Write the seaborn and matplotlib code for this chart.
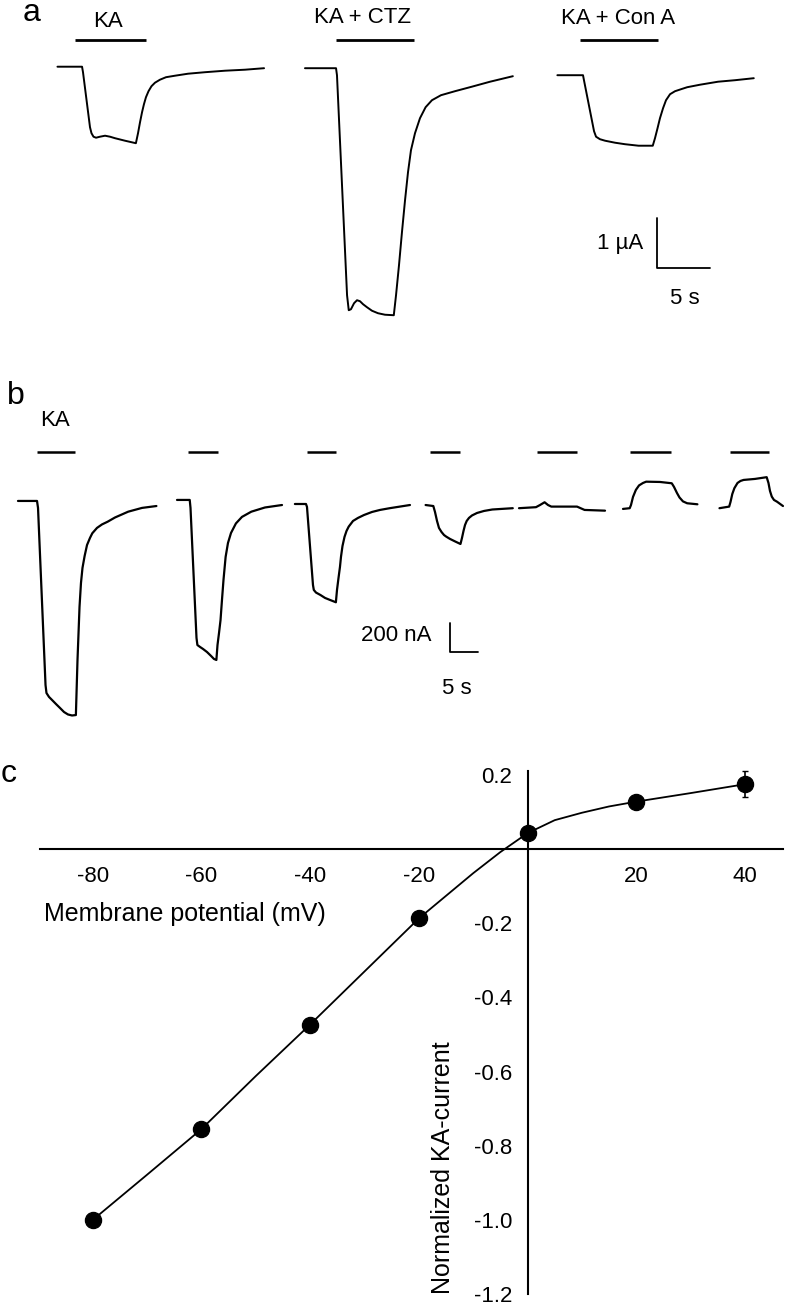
import matplotlib
matplotlib.use("Agg")
import matplotlib.pyplot as plt
import seaborn as sns
import pandas as pd

# ---- panel a: currents at -80 mV (time in s along the panel, current in uA) ----
a_names = ["KA", "KA + CTZ", "KA + Con A"]
a_ka_t = [5.42, 7.74, 7.83, 8.49, 8.63, 8.82, 9.06, 9.43, 9.91, 10.38, 10.85, 11.79,
          12.82, 13.02, 13.21, 13.40, 13.58, 13.77, 14.01, 14.29, 14.62, 15.09, 15.66,
          16.51, 17.74, 19.34, 21.23, 23.11, 24.91]
a_ka_i = [0, 0, -0.11, -1.21, -1.33, -1.40, -1.42, -1.40, -1.38, -1.40, -1.43, -1.48,
          -1.53, -1.33, -1.11, -0.91, -0.75, -0.61, -0.49, -0.39, -0.32, -0.26, -0.21,
          -0.18, -0.14, -0.11, -0.08, -0.06, -0.03]
a_ctz_t = [28.77, 31.70, 31.79, 32.74, 32.90, 33.11, 33.40, 33.68, 33.96, 34.25, 34.62,
           35.09, 35.66, 36.32, 37.15, 37.36, 37.64, 37.92, 38.21, 38.49, 38.77, 39.15,
           39.62, 40.15, 40.75, 41.60, 42.92, 44.51, 46.23, 48.38]
a_ctz_i = [-0.03, -0.03, -0.17, -4.57, -4.87, -4.85, -4.73, -4.67, -4.69, -4.75, -4.81,
           -4.88, -4.93, -4.96, -4.97, -4.57, -3.97, -3.31, -2.67, -2.11, -1.67, -1.33,
           -1.03, -0.81, -0.67, -0.57, -0.49, -0.40, -0.30, -0.19]
a_cona_t = [52.58, 55.00, 55.09, 56.04, 56.23, 56.60, 57.08, 58.02, 58.96, 60.24, 61.58,
            61.79, 62.03, 62.26, 62.55, 62.83, 63.21, 63.68, 64.25, 64.83, 66.04, 67.74,
            69.34, 71.11]
a_cona_i = [-0.17, -0.17, -0.27, -1.29, -1.40, -1.45, -1.48, -1.52, -1.55, -1.58, -1.58,
            -1.43, -1.23, -1.03, -0.83, -0.67, -0.55, -0.49, -0.45, -0.41, -0.36, -0.30,
            -0.27, -0.23]
a_bar_on = [7.11, 31.70, 54.67]
a_bar_off = [13.79, 39.06, 62.08]

# ---- panel b: KA currents at -80 ... +40 mV (time in s, current in nA) ----
b_t = [
    [3.21, 6.61, 6.79, 8.13, 8.30, 8.75, 9.29, 10.0, 10.71, 11.43, 12.14, 12.86, 13.55,
     13.84, 14.20, 14.46, 14.73, 15.11, 15.54, 16.07, 16.48, 17.32, 18.21, 19.23, 20.54,
     22.89, 25.36, 27.93],
    [31.61, 33.88, 34.02, 35.09, 35.25, 35.71, 36.25, 36.96, 37.68, 38.21, 38.64,
     38.84, 39.11, 39.38, 39.64, 39.91, 40.29, 40.71, 41.25, 42.13, 43.21, 44.88, 47.32,
     50.36],
    [52.66, 54.64, 54.82, 55.89, 56.04, 56.43, 57.23, 58.04, 58.93, 59.98,
     60.18, 60.45, 60.71, 60.89, 61.16, 61.52, 61.88, 62.27, 63.04, 63.93, 65.0, 66.43,
     67.86, 69.59, 73.21],
    [76.0, 77.38, 77.68, 78.04, 78.39, 78.84, 79.29, 79.68, 80.36, 81.25, 82.23,
     82.5, 82.77, 83.04, 83.34, 83.75, 84.29, 85.18, 86.43, 87.91, 91.57],
    [92.68, 95.71, 96.43, 97.25, 97.86, 98.45, 103.04, 103.57, 104.39, 108.04],
    [111.25, 112.45, 112.68, 113.04, 113.55, 114.11, 114.82, 115.39, 117.86, 119.96,
     120.36, 120.89, 121.34, 121.96, 122.71, 124.54],
    [128.48, 130.21, 130.45, 130.77, 131.14, 131.70, 132.23, 132.79, 134.82, 136.91,
     137.23, 137.50, 137.82, 138.21, 138.75, 139.82],
]
b_i = [
    [0, 0, -48, -1270, -1325, -1352, -1373, -1401, -1428, -1456, -1473, -1480, -1477,
     -1097, -731, -566, -462, -380, -304, -255, -223, -186, -162, -143, -114, -74, -48, -35],
    [7, 7, -48, -945, -994, -1007, -1021, -1042, -1069, -1090, -1097,
     -994, -911, -822, -683, -545, -386, -290, -221, -155, -110, -74, -45, -28],
    [-21, -21, -41, -580, -614, -632, -649, -669, -683, -699,
     -614, -531, -455, -386, -311, -248, -207, -177, -138, -117, -97, -76, -62, -50, -28],
    [-28, -35, -76, -138, -186, -214, -235, -246, -262, -279, -297,
     -255, -207, -166, -138, -117, -100, -83, -69, -59, -50],
    [-50, -43, -28, -9, -28, -39, -39, -48, -62, -67],
    [-55, -50, -28, 28, 76, 107, 124, 133, 131, 122, 97, 55, 24, -3, -16, -23],
    [-50, -39, -7, 48, 88, 124, 138, 145, 152, 164, 124, 69, 30, 7, -5, -35],
]
b_bar_on = [6.61, 33.57, 54.77, 76.73, 95.96, 112.45, 130.36]
b_bar_off = [13.46, 38.93, 60.00, 82.23, 103.04, 119.79, 137.32]

# ---- panel c: I-V relation ----
vm = [-80, -60, -40, -20, 0, 20, 40]
i_norm = [-1.0, -0.755, -0.473, -0.187, 0.043, 0.128, 0.175]
i_sem = [0.01, 0.01, 0.01, 0.01, 0.01, 0.01, 0.035]
fit_vm = [-80, -70, -60, -50, -40, -30, -20, -10, -5, 0, 5, 10, 15, 20, 30, 40]
fit_i = [-1.0, -0.878, -0.755, -0.612, -0.473, -0.33, -0.187, -0.065, -0.008,
         0.043, 0.078, 0.098, 0.115, 0.128, 0.151, 0.175]
x_ticks = [-80, -60, -40, -20, 20, 40]
y_ticks = [0.2, -0.2, -0.4, -0.6, -0.8, -1.0, -1.2]

sns.set_style("white")
plt.rcParams["font.family"] = ["Liberation Sans", "DejaVu Sans"]
plt.rcParams["axes.unicode_minus"] = False
plt.rcParams["text.color"] = "black"

fig = plt.figure(figsize=(8, 13.06), dpi=100)

# ---------------- panel a ----------------
ax_a = fig.add_axes([0, 0.7473, 1, 0.2527])
df_a = pd.concat([
    pd.DataFrame({"t": a_ka_t, "i": a_ka_i, "trace": a_names[0]}),
    pd.DataFrame({"t": a_ctz_t, "i": a_ctz_i, "trace": a_names[1]}),
    pd.DataFrame({"t": a_cona_t, "i": a_cona_i, "trace": a_names[2]}),
])
sns.lineplot(data=df_a, x="t", y="i", units="trace", estimator=None, sort=False,
             color="black", lw=1.4, ax=ax_a)
ax_a.hlines([0.534] * 3, a_bar_on, a_bar_off, color="black", lw=2)
for name, x, y in zip(a_names, [10.19, 34.25, 58.3], [0.90, 0.98, 0.97]):
    ax_a.text(x, y, name, ha="center", va="center", fontsize=16)
# scale bar 1 uA / 5 s
ax_a.plot([61.98, 61.98, 66.98], [-3.03, -4.03, -4.03], color="black", lw=1.3)
ax_a.text(60.66, -3.53, "1 µA", ha="right", va="center", fontsize=16)
ax_a.text(64.62, -4.63, "5 s", ha="center", va="center", fontsize=16)
ax_a.set_xlim(0, 75.47)
ax_a.set_ylim(-5.266, 1.334)
ax_a.axis("off")

# ---------------- panel b ----------------
ax_b = fig.add_axes([0, 0.4334, 1, 0.2757])
rows = []
for k, (ts, cs) in enumerate(zip(b_t, b_i)):
    rows.append(pd.DataFrame({"t": ts, "i": cs, "trace": k}))
df_b = pd.concat(rows)
sns.lineplot(data=df_b, x="t", y="i", units="trace", estimator=None, sort=False,
             color="black", lw=1.6, ax=ax_b)
ax_b.hlines([338] * len(b_bar_on), b_bar_on, b_bar_off, color="black", lw=1.8)
ax_b.text(9.82, 555, "KA", ha="center", va="center", fontsize=16)
# scale bar 200 nA / 5 s
ax_b.plot([80.36, 80.36, 85.36], [-840, -1040, -1040], color="black", lw=1.3)
ax_b.text(77.1, -925, "200 nA", ha="right", va="center", fontsize=16)
ax_b.text(81.55, -1292, "5 s", ha="center", va="center", fontsize=16)
ax_b.set_xlim(0, 142.86)
ax_b.set_ylim(-1649, 835)
ax_b.axis("off")

# ---------------- panel c ----------------
ax_c = fig.add_axes([0.05, 0, 0.92875, 0.418])
sns.lineplot(x=fit_vm, y=fit_i, color="black", lw=1.3, ax=ax_c)
ax_c.errorbar(vm, i_norm, yerr=i_sem, fmt="none", ecolor="black", elinewidth=1.2, capsize=2)
sns.scatterplot(x=vm, y=i_norm, color="black", s=135, edgecolor="black", zorder=3, ax=ax_c)
ax_c.set_xlim(-89.7, 47.0)
ax_c.set_ylim(-1.232, 0.240)
for side in ["top", "right"]:
    ax_c.spines[side].set_visible(False)
ax_c.spines["left"].set_position(("data", 0))
ax_c.spines["bottom"].set_position(("data", 0))
ax_c.spines["left"].set_bounds(-1.2, 0.21)
for side in ["left", "bottom"]:
    ax_c.spines[side].set_linewidth(1.5)
    ax_c.spines[side].set_color("black")
ax_c.set_xticks(x_ticks, labels=[str(v) for v in x_ticks])
ax_c.set_yticks(y_ticks, labels=[f"{v:.1f}" for v in y_ticks])
ax_c.tick_params(axis="both", length=2, width=1, direction="out", labelsize=16, colors="black")
ax_c.tick_params(axis="x", pad=10)
ax_c.tick_params(axis="y", pad=9)
ax_c.set_xlabel("")
ax_c.set_ylabel("")
ax_c.text(-89.0, -0.175, "Membrane potential (mV)", ha="left", va="center", fontsize=18)
ax_c.text(-15.6, -0.86, "Normalized KA-current", ha="center", va="center",
          rotation=90, fontsize=18)

# panel letters
fig.text(32 / 800, 1 - 21 / 1306, "a", ha="center", va="baseline", fontsize=23)
fig.text(16 / 800, 1 - 404 / 1306, "b", ha="center", va="baseline", fontsize=23)
fig.text(9 / 800, 1 - 782 / 1306, "c", ha="center", va="baseline", fontsize=23)

fig.savefig("out.png", dpi=100)
